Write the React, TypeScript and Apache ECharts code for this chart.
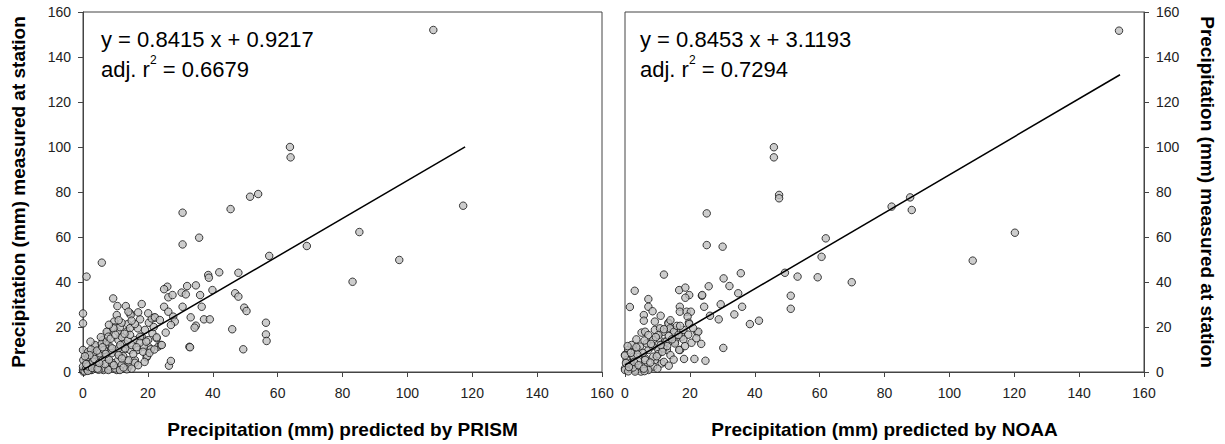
import React, { useEffect, useRef } from "react";
import * as echarts from "echarts";

const FONT = "'Liberation Sans', Arial, Helvetica, sans-serif";

// Axis ticks shared by all axes
const axisMin = 0;
const axisMax = 160;
const axisStep = 20;

// Titles
const prismXTitle = "Precipitation (mm) predicted by PRISM";
const noaaXTitle = "Precipitation (mm) predicted by NOAA";
const yTitle = "Precipitation (mm) measured at station";

// Regression fits [slope, intercept, xStart, xEnd] and their text
const prismFit = [0.8415, 0.9217, 0, 117.8];
const noaaFit = [0.8453, 3.1193, 0, 152.6];
const prismEq = "y = 0.8415 x + 0.9217";
const prismR2 = "0.6679";
const noaaEq = "y = 0.8453 x + 3.1193";
const noaaR2 = "0.7294";

// [predicted by PRISM, measured at station]
const prismPoints = [
  [108, 152], [117.2, 73.9], [85.2, 62.2], [97.5, 49.8], [83.1, 40.1], [69, 56],
  [63.8, 100], [64, 95.4], [51.5, 77.9], [54, 79.1], [30.7, 70.8], [45.5, 72.4],
  [30.7, 56.7], [35.8, 59.7], [57.4, 51.6], [5.8, 48.6], [1.1, 42.4], [38.6, 43.1],
  [38.8, 41.9], [42, 44.3], [47.9, 44.1], [39.9, 36.4], [34.8, 38.5], [32.1, 38.2],
  [30.4, 35.3], [31.7, 34.5], [36.1, 34.2], [36.6, 29], [30.7, 29], [26, 37.9],
  [25, 36.8], [26.3, 33.2], [27.6, 34.2], [25, 29], [46.9, 35], [47.9, 33.5],
  [49.7, 28.6], [50.4, 27.1], [56.4, 21.9], [56.4, 16.7], [56.6, 13.8], [46, 19],
  [49.4, 10.1], [33.2, 24.3], [34.8, 20.6], [34.4, 19.7], [37.3, 23.4], [39.1, 23.4],
  [32.8, 11.2], [26.5, 2.8], [27.1, 4.9], [18.1, 30.2], [9.3, 32.7], [10.6, 29.3],
  [13.2, 29.3], [0, 26], [0, 21.6], [0, 9.8], [14.5, 26.1], [22, 24.2], [20.3, 21.9],
  [17.6, 23.4], [10.4, 25.3], [13.8, 21.3], [9.6, 22.4], [9.7, 19.8], [7.6, 17.9],
  [10.7, 17.9], [13.5, 17.9], [16.9, 19.4], [19.1, 18.7], [21.4, 17.2], [18.1, 15.7],
  [15.8, 14.2], [22.7, 15], [23.2, 11.3], [20.3, 11], [24, 12], [19.6, 6.5],
  [16.9, 9.8], [14.5, 9.8], [12.4, 9.5], [16, 5.3], [13.5, 5], [10.7, 5], [33, 11],
  [26.3, 26.8], [27.8, 24.6], [28.3, 22.4], [27.1, 20.9], [17.6, 15.7], [20.1, 14.2],
  [22.7, 15.4], [24.3, 12], [20.9, 10.1], [19.8, 7.1], [16, 4.1], [14, 2.2], [14, 5.2],
  [12.4, 7.1], [10.4, 9], [8.3, 11.3], [6.1, 14.2], [3.7, 11.3], [3.2, 8.3], [1.1, 5.3],
  [7.3, 17.9], [11.4, 19.9], [14.5, 19.5], [16, 21.3], [21.2, 23.8], [22.2, 24.3],
  [20.1, 26.1], [23.7, 23.1], [14.7, 25.3], [14, 26.8], [11.9, 21.9], [9.4, 19.4],
  [6.8, 12], [5.2, 6.8], [8.3, 2.4], [10.4, 0.9], [6.3, 0.9], [2.7, 0.9], [0.1, 0.2],
  [4.2, 3.1], [11.9, 3.1], [18.7, 11.3], [0, 0.9], [2.2, 0.9], [3.7, 2.4], [5.8, 1.6],
  [7.8, 0.9], [9.9, 1.6], [11.4, 0.9], [13.5, 1.2], [0.1, 5.3], [1.6, 6.8], [3.2, 7.6],
  [5.2, 8.3], [7.3, 6.8], [8.8, 8.3], [10.9, 10.5], [3.7, 12], [5.8, 12.6], [7.3, 13.5],
  [7.8, 15.7], [10.9, 14.2], [12.9, 12.6], [1.6, 9], [0, 2.4], [0.5, 0.3], [1, 1.5],
  [2, 3], [4, 4.5], [6, 5], [2.5, 10], [12, 15.5], [15, 12], [17.5, 13], [9, 4],
  [11, 7.5], [13, 10.5], [4.8, 1], [1.5, 0.5], [3, 4.6], [6.5, 9.8],
  [1.5, 2.5], [2.8, 1.8], [4.5, 1.5], [6.8, 3.5], [8, 5.5], [9.5, 3], [12.5, 2],
  [15, 1.5], [17, 3], [3.5, 5.8], [5, 4], [7, 8], [9, 10.5], [11.5, 12], [13.8, 14],
  [14.5, 16.5], [16.5, 11], [18.5, 9], [20.5, 8.5], [22, 10], [12, 6], [4.3, 9.5],
  [2, 7.5], [6, 11], [8.5, 14.8], [10, 16.5], [12.8, 17], [15.5, 8], [19, 4.5],
  [1, 3.5], [0.6, 7], [2.3, 13.5], [5.5, 15.5], [8, 21], [11, 23], [17, 26.5],
  [15, 22.8], [19.5, 13.5], [21.8, 20], [25.5, 17.5],
];

// [predicted by NOAA, measured at station]
const noaaPoints = [
  [152.3, 151.7], [45.9, 99.9], [45.9, 95.4], [47.5, 78.7], [47.5, 77.2], [25.2, 70.5],
  [82.2, 73.5], [88.4, 72], [87.9, 77.6], [120.2, 61.9], [107.2, 49.5], [25.2, 56.4],
  [30.1, 55.7], [61.9, 59.4], [60.6, 51.2], [49.3, 44.1], [53.2, 42.4], [59.4, 42.1],
  [69.9, 39.9], [51.1, 33.9], [51.1, 28.1], [35.7, 43.9], [30.4, 41.6], [32.2, 38.2],
  [34.9, 35], [36.1, 29], [33.7, 25.6], [28.9, 23.4], [38.5, 21.3], [41.3, 22.8],
  [30.3, 10.7], [24.8, 5], [21.4, 5.8], [18.2, 5.8], [22.3, 17.6], [29.5, 30.1],
  [25.8, 38.1], [23.7, 33.9], [24.4, 29], [26.2, 25], [12, 43.3], [3, 36.1], [1.5, 28.9],
  [7.2, 32.4], [7.2, 29], [16.7, 36.4], [18.6, 37.5], [19.8, 34.2], [18.6, 33],
  [5.8, 25.3], [5.8, 22.8], [16.9, 29], [16.9, 26.8], [19, 26.8], [20.3, 26.8],
  [19.3, 24.6], [19.7, 21.9], [22.6, 17.9], [23.8, 34.2], [9.2, 22.4], [13.4, 21.9],
  [14.9, 18.7], [5.1, 17.5], [6.2, 17.9], [7.2, 16.4], [10.3, 14.9], [12.3, 13.5],
  [15.4, 13.5], [17.5, 15.7], [18, 18.7], [9.2, 18.7], [11.8, 17.9], [17, 9.8],
  [12.9, 9.8], [10.3, 9.8], [7.2, 9.8], [4.1, 9.8], [1, 9.8], [0, 7.6], [2.6, 6.8],
  [6.2, 6.1], [9.2, 5.3], [11.3, 3.8], [2.1, 3.1], [0, 1.6], [0, 0.9], [3.1, 0.9],
  [7.2, 1.6], [8.7, 2.4], [4.9, 0.2], [10.8, 19.4], [13.4, 21.6], [13.9, 19.4],
  [15.1, 17.9], [10.3, 16.4], [8.7, 14.2], [6.7, 12.7], [4.6, 11.3], [12.8, 13.5],
  [15.4, 12.7], [11.8, 10.5], [2.6, 6.8], [0.5, 5.3], [6.2, 5.3], [8.7, 6.8],
  [10.3, 8], [5.1, 2.4], [7.2, 0.9], [3.1, 0.2], [1.5, 3.8], [19.8, 21.3], [19.5, 16.6],
  [18, 14.5], [16.7, 9.8], [0, 7.3], [2, 12], [3.5, 14.5], [14, 7.5], [12, 4.5],
  [1, 0.3], [2.5, 2], [5.5, 8.5], [8.5, 11.5], [13.5, 16], [16, 20.5], [21, 19.5],
  [0.3, 4], [4, 5], [6, 0.4],
  [1.2, 2.2], [2.8, 4.5], [4.2, 3], [5.8, 1.5], [3.8, 7.8], [7.8, 4.2], [9.8, 7],
  [11.5, 9], [13, 11.5], [14.5, 14.5], [16.5, 16.5], [8, 12.5], [6, 14], [3.5, 11],
  [1.8, 8.5], [11, 12], [9.5, 15.5], [12, 19], [14, 23], [11, 25], [8.5, 27],
  [17, 20.5], [18.5, 11.5], [20.5, 13], [22, 15], [23.5, 12.5], [15, 5.5], [13.5, 2.8],
  [10, 1.5], [0.8, 11.5],
];

function buildOption() {
  const fitLine = (f: number[]) => [
    [f[2], f[0] * f[2] + f[1]],
    [f[3], f[0] * f[3] + f[1]],
  ];

  const axisLineStyle = { color: "#444", width: 1 };
  const labelStyle = { fontSize: 14, color: "#222", fontFamily: FONT };
  const titleStyle = { fontSize: 19, fontWeight: "bold" as const, color: "#000", fontFamily: FONT };

  const xAxisBase = (gridIndex: number, name: string) => ({
    gridIndex,
    type: "value" as const,
    min: axisMin,
    max: axisMax,
    interval: axisStep,
    name,
    nameLocation: "middle" as const,
    nameGap: 48,
    nameTextStyle: titleStyle,
    axisLine: { show: true, onZero: false, lineStyle: axisLineStyle },
    axisTick: { show: true, length: 5, lineStyle: axisLineStyle },
    axisLabel: { ...labelStyle, margin: 14 },
    splitLine: { show: false },
  });

  const eqText = (eq: string, r2: string) =>
    `{m|${eq}}\n{m|adj. r}{s|2}{m| = ${r2}}`;
  const rich = {
    m: { fontSize: 22, lineHeight: 30, fontFamily: FONT, fill: "#000" },
    s: { fontSize: 12, lineHeight: 12, verticalAlign: "top", fontFamily: FONT, fill: "#000" },
  };

  const scatterStyle = { color: "#c0c0c0", borderColor: "#111", borderWidth: 1 };

  return {
    animation: false,
    backgroundColor: "#fff",
    grid: [
      { left: 83, top: 12, width: 519, height: 360, show: true, borderColor: "#444", borderWidth: 1, backgroundColor: "transparent" },
      { left: 625, top: 12, width: 519, height: 360, show: true, borderColor: "#444", borderWidth: 1, backgroundColor: "transparent" },
    ],
    xAxis: [xAxisBase(0, prismXTitle), xAxisBase(1, noaaXTitle)],
    yAxis: [
      {
        gridIndex: 0,
        type: "value",
        position: "left",
        min: axisMin,
        max: axisMax,
        interval: axisStep,
        name: yTitle,
        nameLocation: "middle",
        nameGap: 55,
        nameTextStyle: titleStyle,
        axisLine: { show: true, onZero: false, lineStyle: axisLineStyle },
        axisTick: { show: true, length: 5, lineStyle: axisLineStyle },
        axisLabel: { ...labelStyle, margin: 12 },
        splitLine: { show: false },
      },
      {
        gridIndex: 1,
        type: "value",
        position: "right",
        min: axisMin,
        max: axisMax,
        interval: axisStep,
        name: yTitle,
        nameLocation: "middle",
        nameGap: 54,
        nameRotate: -90,
        nameTextStyle: titleStyle,
        axisLine: { show: true, onZero: false, lineStyle: axisLineStyle },
        axisTick: { show: true, length: 5, lineStyle: axisLineStyle },
        axisLabel: { ...labelStyle, margin: 12 },
        splitLine: { show: false },
      },
    ],
    series: [
      {
        type: "scatter",
        xAxisIndex: 0,
        yAxisIndex: 0,
        data: prismPoints,
        symbol: "circle",
        symbolSize: 7.5,
        itemStyle: scatterStyle,
        z: 2,
      },
      {
        type: "line",
        xAxisIndex: 0,
        yAxisIndex: 0,
        data: fitLine(prismFit),
        symbol: "none",
        lineStyle: { color: "#000", width: 1.5 },
        z: 3,
      },
      {
        type: "scatter",
        xAxisIndex: 1,
        yAxisIndex: 1,
        data: noaaPoints,
        symbol: "circle",
        symbolSize: 7.5,
        itemStyle: scatterStyle,
        z: 2,
      },
      {
        type: "line",
        xAxisIndex: 1,
        yAxisIndex: 1,
        data: fitLine(noaaFit),
        symbol: "none",
        lineStyle: { color: "#000", width: 1.5 },
        z: 3,
      },
    ],
    graphic: [
      {
        type: "text",
        x: 101,
        y: 24,
        style: { text: eqText(prismEq, prismR2), rich, fontFamily: FONT, fontSize: 22, fill: "#000", textVerticalAlign: "top" },
        z: 10,
      },
      {
        type: "text",
        x: 640,
        y: 24,
        style: { text: eqText(noaaEq, noaaR2), rich, fontFamily: FONT, fontSize: 22, fill: "#000", textVerticalAlign: "top" },
        z: 10,
      },
    ],
  };
}

export default function App() {
  const ref = useRef<HTMLDivElement>(null);
  useEffect(() => {
    if (!ref.current) return;
    const chart = echarts.init(ref.current, undefined, { renderer: "svg" });
    chart.setOption(buildOption() as any);
    return () => chart.dispose();
  }, []);
  return (
    <div
      ref={ref}
      style={{ position: "fixed", left: 0, top: 0, width: 1225, height: 444, background: "#fff" }}
    />
  );
}
